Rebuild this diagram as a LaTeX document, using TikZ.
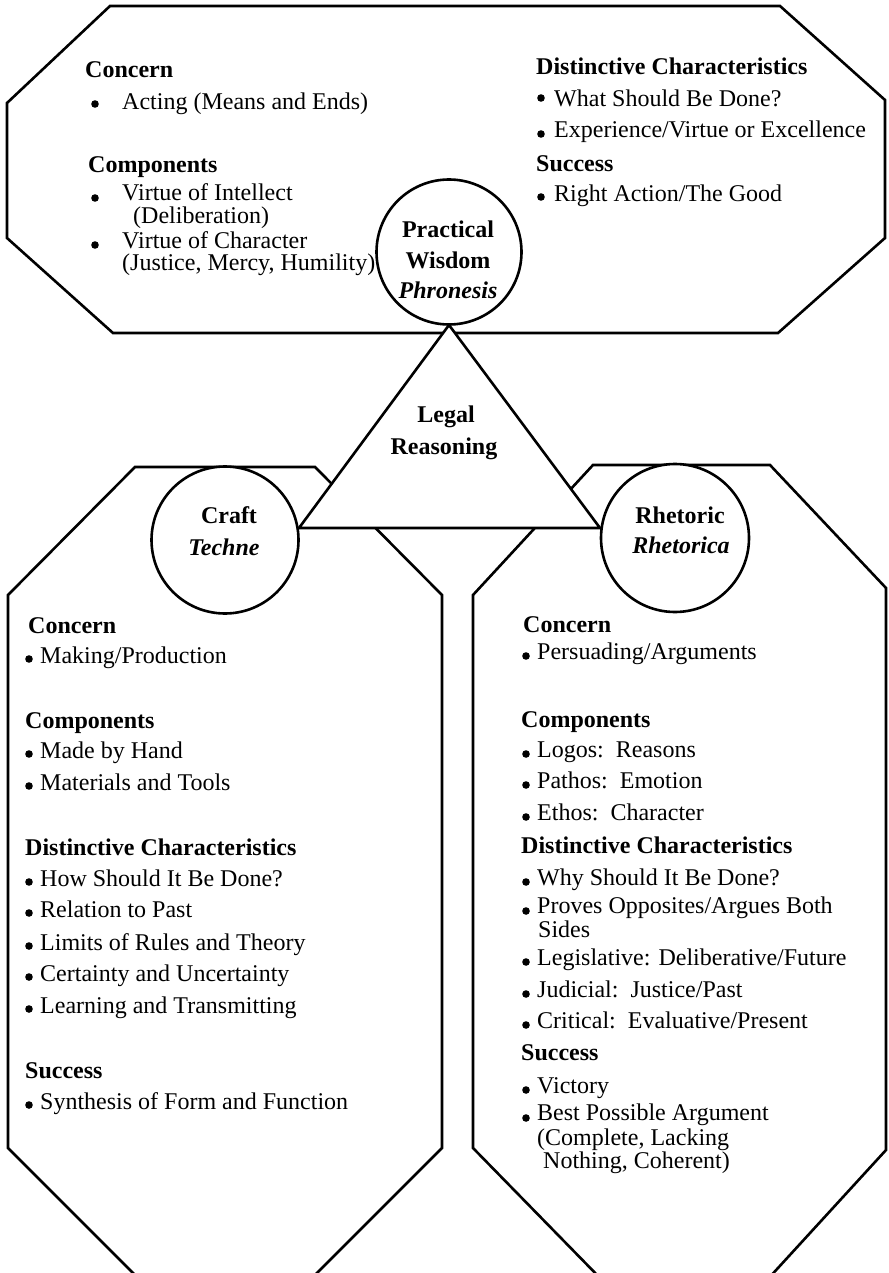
\documentclass[tikz,border=0pt]{standalone}
\usepackage{fontspec}
\setmainfont{Liberation Serif}
% bullet dot at (#1,#2), item text named #5 with its baseline at (#3,#4)
\newcommand\bitem[6]{%
  \fill (#1,#2) circle[radius=3.8pt];
  \node[txt] (#5) at (#3,#4) {#6};}
\begin{document}
\begin{tikzpicture}[x=1pt,y=-1pt,
  outline/.style={draw=black, line width=2.6pt, line join=miter},
  blank/.style={outline, fill=white},
  txt/.style={anchor=base west, inner sep=0pt, font=\fontsize{24}{28}\selectfont},
  hd/.style={anchor=base west, inner sep=0pt, font=\fontsize{24}{28}\selectfont\bfseries},
  ttl/.style={anchor=base, inner sep=0pt, font=\fontsize{24}{28}\selectfont\bfseries},
  ttli/.style={anchor=base, inner sep=0pt, font=\fontsize{24}{28}\selectfont\bfseries\itshape},
  ring/.style={blank, circle, inner sep=0pt, outer sep=0pt, minimum size=#1},
]
\useasboundingbox (0,0) rectangle (888,1273);
\clip (0,0) rectangle (888,1273);

% lower left panel (Craft)
\draw[outline] (135,467) -- (315,467) -- (442,595) -- (442,1148) -- (310,1280)
  -- (140,1280) -- (8,1148) -- (8,595) -- cycle;
% lower right panel (Rhetoric)
\draw[outline] (593,465) -- (770,465) -- (886,588) -- (886,1150) -- (767,1280)
  -- (602,1280) -- (473,1148) -- (473,595) -- cycle;
% upper panel (Practical Wisdom)
\draw[outline] (110,6) -- (780,6) -- (885,100) -- (885,238) -- (778,333)
  -- (113,333) -- (7,238) -- (7,103) -- cycle;

% central triangle
\coordinate (apex) at (449,325);
\coordinate (bl) at (299,528);
\coordinate (br) at (600,528);
\draw[blank] (apex) -- (bl) -- (br) -- cycle;
\node[ttl] (legal) at (446,422) {Legal};
\node[ttl] (reasoning) at (444,454) {Reasoning};

% the three circles
\node[ring=145pt] (pw) at (449,252) {};
\node[ring=147pt] (craft) at (225,540) {};
\node[ring=148pt] (rhet) at (675,538) {};

\node[ttl] (pw1) at (448,237) {Practical};
\node[ttl] (pw2) at (448,268) {Wisdom};
\node[ttli] (pw3) at (448,298) {Phronesis};

\node[ttl] (cr1) at (229,523) {Craft};
\node[ttli] (cr2) at (224,555) {Techne};

\node[ttl] (rh1) at (680,523) {Rhetoric};
\node[ttli] (rh2) at (681,553) {Rhetorica};

% upper panel, left column
\node[hd] (tlConcern) at (85,78) {Concern};
\bitem{95}{104}{122}{110}{tlActing}{Acting (Means and Ends)}
\node[hd] (tlComp) at (88,173) {Components};
\bitem{95}{198}{122}{201}{tlIntellect}{Virtue of Intellect}
\node[txt] (tlDelib) at (133,224) {(Deliberation)};
\bitem{95}{245}{122}{248}{tlCharacter}{Virtue of Character}
\node[txt] (tlJustice) at (122,270) {(Justice, Mercy, Humility)};

% upper panel, right column
\node[hd] (trDist) at (536,75) {Distinctive Characteristics};
\bitem{541}{98}{554}{107}{trWhat}{What Should Be Done?}
\bitem{541}{134}{554}{138}{trExp}{Experience/Virtue or Excellence}
\node[hd] (trSuccess) at (536,172) {Success};
\bitem{541}{197}{554}{202}{trRight}{Right Action/The Good}

% Craft panel
\node[hd] (lConcern) at (28,633) {Concern};
\bitem{29}{659}{40}{663}{lMaking}{Making/Production}
\node[hd] (lComp) at (25,728) {Components};
\bitem{29}{754}{40}{758}{lHand}{Made by Hand}
\bitem{29}{786}{40}{790}{lTools}{Materials and Tools}
\node[hd] (lDist) at (25,855) {Distinctive Characteristics};
\bitem{29}{882}{40}{886}{lHow}{How Should It Be Done?}
\bitem{29}{913}{40}{917}{lPast}{Relation to Past}
\bitem{29}{946}{40}{950}{lLimits}{Limits of Rules and Theory}
\bitem{29}{977}{40}{981}{lCert}{Certainty and Uncertainty}
\bitem{29}{1009}{40}{1013}{lLearn}{Learning and Transmitting}
\node[hd] (lSuccess) at (25,1078) {Success};
\bitem{29}{1105}{40}{1109}{lSynth}{Synthesis of Form and Function}

% Rhetoric panel
\node[hd] (rConcern) at (523,632) {Concern};
\bitem{526}{656}{537}{659}{rPersuade}{Persuading/Arguments}
\node[hd] (rComp) at (521,727) {Components};
\bitem{526}{754}{537}{757}{rLogos}{Logos:\ \ Reasons}
\bitem{526}{785}{537}{788}{rPathos}{Pathos:\ \ Emotion}
\bitem{526}{817}{537}{820}{rEthos}{Ethos:\ \ Character}
\node[hd] (rDist) at (521,853) {Distinctive Characteristics};
\bitem{526}{882}{537}{885}{rWhy}{Why Should It Be Done?}
\bitem{526}{911}{537}{913}{rProves}{Proves Opposites/Argues Both}
\node[txt] (rSides) at (538,937) {Sides};
\bitem{526}{962}{537}{965}{rLeg}{Legislative: Deliberative/Future}
\bitem{526}{994}{537}{997}{rJud}{Judicial:\ \ Justice/Past}
\bitem{526}{1025}{537}{1028}{rCrit}{Critical:\ \ Evaluative/Present}
\node[hd] (rSuccess) at (521,1060) {Success};
\bitem{526}{1090}{537}{1093}{rVictory}{Victory}
\bitem{526}{1118}{537}{1120}{rBest}{Best Possible Argument}
\node[txt] (rComplete) at (537,1145) {(Complete, Lacking};
\node[txt] (rNothing) at (543,1168) {Nothing, Coherent)};
\end{tikzpicture}
\end{document}
